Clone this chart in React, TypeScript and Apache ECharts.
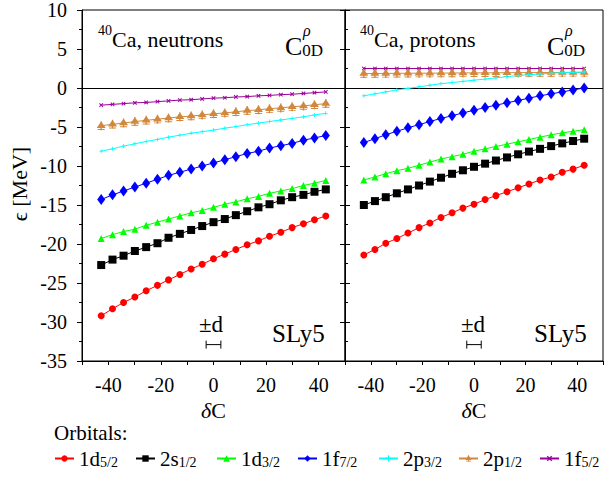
import React, { useEffect, useRef } from 'react';
import * as echarts from 'echarts';

// ---- data ----
const xValues = [-42.7, -38.4, -34.2, -29.9, -25.6, -21.3, -17.1, -12.8, -8.5, -4.3, 0, 4.3, 8.5, 12.8, 17.1, 21.3, 25.6, 29.9, 34.2, 38.4, 42.7];

const orbitalMain = ['1d', '2s', '1d', '1f', '2p', '2p', '1f'];
const orbitalSub = ['5/2', '1/2', '3/2', '7/2', '3/2', '1/2', '5/2'];

// neutrons
const n1d52 = [-29.2, -28.3, -27.5, -26.8, -26.0, -25.3, -24.6, -23.9, -23.2, -22.6, -21.9, -21.3, -20.7, -20.1, -19.6, -19.0, -18.5, -17.9, -17.4, -16.9, -16.4];
const n2s12 = [-22.7, -22.0, -21.5, -20.9, -20.4, -19.9, -19.2, -18.7, -18.2, -17.7, -17.2, -16.8, -16.3, -15.8, -15.3, -14.9, -14.4, -14.0, -13.7, -13.3, -13.0];
const n1d32 = [-19.3, -18.8, -18.4, -18.1, -17.6, -17.2, -16.8, -16.4, -16.0, -15.7, -15.3, -14.9, -14.6, -14.2, -13.9, -13.5, -13.2, -12.9, -12.5, -12.2, -11.85];
const n1f72 = [-14.3, -13.7, -13.2, -12.7, -12.2, -11.7, -11.2, -10.8, -10.4, -10.0, -9.6, -9.2, -8.8, -8.4, -8.1, -7.7, -7.4, -7.1, -6.7, -6.4, -6.1];
const n2p32 = [-8.1, -7.8, -7.45, -7.15, -6.85, -6.6, -6.3, -6.05, -5.8, -5.6, -5.4, -5.15, -4.95, -4.7, -4.5, -4.3, -4.1, -3.9, -3.7, -3.45, -3.25];
const n2p12 = [-4.85, -4.65, -4.5, -4.3, -4.15, -4.0, -3.85, -3.7, -3.6, -3.45, -3.3, -3.2, -3.05, -2.9, -2.8, -2.65, -2.55, -2.4, -2.3, -2.15, -2.0];
const n1f52 = [-2.2, -2.1, -2.0, -1.9, -1.85, -1.75, -1.65, -1.55, -1.5, -1.4, -1.3, -1.25, -1.15, -1.1, -1.0, -0.95, -0.85, -0.8, -0.7, -0.6, -0.5];

// protons
const p1d52 = [-21.4, -20.7, -19.9, -19.3, -18.6, -17.9, -17.3, -16.6, -16.0, -15.4, -14.9, -14.3, -13.8, -13.3, -12.8, -12.3, -11.8, -11.4, -10.8, -10.4, -9.9];
const p2s12 = [-15.0, -14.5, -14.0, -13.5, -13.0, -12.5, -12.0, -11.5, -11.0, -10.55, -10.1, -9.7, -9.3, -8.9, -8.5, -8.15, -7.8, -7.45, -7.1, -6.8, -6.5];
const p1d32 = [-11.8, -11.4, -11.0, -10.6, -10.3, -9.9, -9.5, -9.1, -8.8, -8.5, -8.1, -7.8, -7.5, -7.2, -6.9, -6.6, -6.3, -6.0, -5.75, -5.55, -5.35];
const p1f72 = [-7.0, -6.5, -6.0, -5.55, -5.1, -4.7, -4.3, -3.9, -3.55, -3.2, -2.85, -2.5, -2.2, -1.9, -1.6, -1.3, -1.0, -0.75, -0.5, -0.25, 0.0];
const p2p32 = [-1.0, -0.75, -0.5, -0.25, -0.05, 0.15, 0.35, 0.55, 0.7, 0.85, 1.0, 1.15, 1.3, 1.45, 1.6, 1.7, 1.8, 1.9, 1.95, 2.0, 2.05];
const p2p12 = [1.85, 1.86, 1.87, 1.88, 1.89, 1.9, 1.9, 1.91, 1.92, 1.93, 1.94, 1.94, 1.95, 1.96, 1.97, 1.97, 1.98, 1.98, 1.99, 2.0, 2.0];
const p1f52 = [2.5, 2.5, 2.5, 2.5, 2.5, 2.5, 2.5, 2.5, 2.5, 2.5, 2.5, 2.5, 2.5, 2.5, 2.5, 2.5, 2.5, 2.5, 2.5, 2.5, 2.5];

const neutronSeries = [n1d52, n2s12, n1d32, n1f72, n2p32, n2p12, n1f52];
const protonSeries = [p1d52, p2s12, p1d32, p1f72, p2p32, p2p12, p1f52];

const dHalf = 2.8; // half width of the ±d bar

// ---- styles ----
const FONT = 'Liberation Serif';
const PLUS = 'path://M4,0H6V4H10V6H6V10H4V6H0V4H4Z';
const TRI_STEM = 'path://M5,0L9.5,7.5H0.5Z M4.3,0H5.7V10H4.3Z M1.5,8.6H8.5V9.6H1.5Z';
const colors = ['#ff0000', '#000000', '#00ff00', '#0000ff', '#00ffff', '#d2883c', '#990099'];
const symbols = ['circle', 'rect', 'triangle', 'diamond', PLUS, TRI_STEM, PLUS];
const symbolSizes: any[] = [7, 8, 7, [8, 11], 4, 9, 5];
const symbolRotates = [0, 0, 0, 0, 0, 0, 45];
const legendLefts = [54, 135, 216, 297, 378, 458, 539];

const seriesName = (i: number) => orbitalMain[i] + orbitalSub[i];

function buildSeries() {
  const out: any[] = [];
  [neutronSeries, protonSeries].forEach((panel, p) => {
    panel.forEach((vals, i) => {
      const s: any = {
        type: 'line',
        name: seriesName(i),
        xAxisIndex: p,
        yAxisIndex: p === 0 ? 0 : 2,
        data: xValues.map((x, k) => [x, vals[k]]),
        symbol: symbols[i],
        symbolSize: symbolSizes[i],
        symbolRotate: symbolRotates[i],
        showSymbol: true,
        lineStyle: { width: 1, color: colors[i] },
        itemStyle: { color: colors[i] },
        color: colors[i],
        z: 3 + (6 - i),
      };
      if (i === 0) {
        s.markLine = {
          silent: true,
          symbol: 'none',
          label: { show: false },
          lineStyle: { color: '#000', width: 1, type: 'solid' },
          data: [{ yAxis: 0 }],
        };
      }
      out.push(s);
    });
    out.push({
      type: 'custom',
      xAxisIndex: p,
      yAxisIndex: p === 0 ? 0 : 2,
      data: [[dHalf]],
      renderItem: (params: any, api: any) => {
        const h = api.value(0);
        const a = api.coord([-h, -32.9]);
        const b = api.coord([h, -32.9]);
        const st = { stroke: '#000', lineWidth: 1 };
        return {
          type: 'group',
          children: [
            { type: 'line', shape: { x1: a[0], y1: a[1], x2: b[0], y2: b[1] }, style: st },
            { type: 'line', shape: { x1: a[0], y1: a[1] - 4, x2: a[0], y2: a[1] + 4 }, style: st },
            { type: 'line', shape: { x1: b[0], y1: b[1] - 4, x2: b[0], y2: b[1] + 4 }, style: st },
          ],
        };
      },
    });
  });
  return out;
}

function xAxis(gridIndex: number) {
  return {
    type: 'value',
    gridIndex,
    min: -50,
    max: 50,
    interval: 10,
    name: '{i|δ}{n|C}',
    nameLocation: 'middle',
    nameGap: 38,
    nameTextStyle: {
      fontFamily: FONT,
      fontSize: 22,
      color: '#000',
      rich: {
        i: { fontFamily: FONT, fontSize: 22, fontStyle: 'italic', color: '#000' },
        n: { fontFamily: FONT, fontSize: 22, color: '#000' },
      },
    },
    axisLine: { show: true, onZero: false, lineStyle: { color: '#000', width: 1 } },
    axisTick: { show: true, inside: false, length: 4, lineStyle: { color: '#000' } },
    axisLabel: {
      margin: 14,
      fontFamily: FONT,
      fontSize: 20,
      color: '#000',
      formatter: (v: number) => (v % 20 === 0 && Math.abs(v) < 50 ? String(v) : ''),
    },
    splitLine: { show: false },
  };
}

function yAxis(gridIndex: number, position: string, labels: boolean, inside: boolean, minor: boolean) {
  return {
    type: 'value',
    gridIndex,
    position,
    min: -35,
    max: 10,
    interval: 5,
    axisLine: { show: true, onZero: false, lineStyle: { color: '#000', width: 1 } },
    axisTick: { show: true, inside, length: 5, lineStyle: { color: '#000' } },
    minorTick: { show: minor, splitNumber: 2, length: 3, lineStyle: { color: '#000' } },
    axisLabel: { show: labels, margin: 15, fontFamily: FONT, fontSize: 20, color: '#000' },
    splitLine: { show: false },
    minorSplitLine: { show: false },
  };
}

function txt(x: number, y: number, text: string, fontSize: number, extra: any = {}) {
  return {
    type: 'text',
    x,
    y,
    silent: true,
    ...extra.el,
    style: {
      text,
      fontFamily: FONT,
      fontSize,
      fill: '#000',
      align: 'left',
      verticalAlign: 'middle',
      ...extra.style,
    },
  };
}

function buildGraphics() {
  const g: any[] = [];
  g.push(txt(19, 184, 'ϵ [MeV]', 22, { el: { rotation: Math.PI / 2 }, style: { align: 'center' } }));
  g.push(txt(54, 433, 'Orbitals:', 21));
  const panels = [
    { dx: 0, label: 'neutrons' },
    { dx: 262, label: 'protons' },
  ];
  panels.forEach(({ dx, label }) => {
    g.push(
      txt(98 + dx, 23, `{sup|40}{m|Ca, ${label}}`, 22, {
        style: {
          verticalAlign: 'top',
          rich: {
            sup: { fontFamily: FONT, fontSize: 14, lineHeight: 14, verticalAlign: 'top', fill: '#000' },
            m: { fontFamily: FONT, fontSize: 22, lineHeight: 32, fill: '#000' },
          },
        },
      })
    );
    g.push(
      txt(285 + dx, 46, '{c|C}{s|0D}', 26, {
        style: {
          rich: {
            c: { fontFamily: FONT, fontSize: 26, lineHeight: 26, fill: '#000' },
            s: { fontFamily: FONT, fontSize: 17, lineHeight: 20, verticalAlign: 'bottom', fill: '#000' },
          },
        },
      })
    );
    g.push(txt(303 + dx, 30, 'ρ', 16, { style: { fontStyle: 'italic' } }));
    g.push(txt(272 + dx, 333, 'SLy5', 25));
    g.push(txt(199 + dx, 324, '±d', 23));
  });
  return g;
}

function buildLegends() {
  return orbitalMain.map((_, i) => ({
    data: [seriesName(i)],
    left: legendLefts[i],
    top: 448,
    padding: 0,
    itemWidth: 19,
    itemHeight: 8,
    selectedMode: false,
    formatter: () => `{m|${orbitalMain[i]}}{s|${orbitalSub[i]}}`,
    textStyle: {
      color: '#000',
      fontFamily: FONT,
      fontSize: 21,
      rich: {
        m: { fontFamily: FONT, fontSize: 21, lineHeight: 21, color: '#000' },
        s: { fontFamily: FONT, fontSize: 14, lineHeight: 7, verticalAlign: 'bottom', color: '#000' },
      },
    },
  }));
}

export default function App() {
  const ref = useRef<HTMLDivElement>(null);
  useEffect(() => {
    document.body.style.margin = '0';
    if (!ref.current) return;
    const chart = echarts.init(ref.current, undefined, { renderer: 'svg' });
    chart.setOption({
      animation: false,
      backgroundColor: '#fff',
      grid: [
        { left: 82, top: 10, width: 263, height: 351, show: true, borderColor: '#000', borderWidth: 1, backgroundColor: 'transparent' },
        { left: 345, top: 10, width: 264, height: 351, show: true, borderColor: '#000', borderWidth: 1, backgroundColor: 'transparent' },
      ],
      xAxis: [xAxis(0), xAxis(1)],
      yAxis: [
        yAxis(0, 'left', true, false, true),
        yAxis(0, 'right', false, true, false),
        yAxis(1, 'left', false, true, true),
      ],
      legend: buildLegends(),
      graphic: buildGraphics(),
      series: buildSeries(),
    });
    return () => chart.dispose();
  }, []);
  return <div ref={ref} style={{ position: 'absolute', left: 0, top: 0, width: 606, height: 479 }} />;
}
